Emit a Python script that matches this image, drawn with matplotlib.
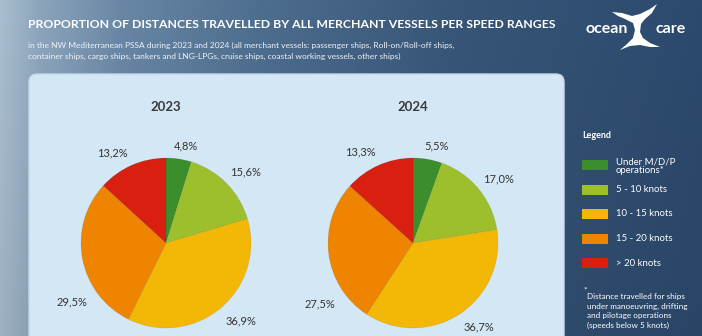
import numpy as np
import matplotlib
matplotlib.use("Agg")
import matplotlib.pyplot as plt
from matplotlib.patches import FancyBboxPatch, Rectangle, Polygon

plt.rcParams['font.family'] = ['Lato', 'DejaVu Sans']

# ---------------- data ----------------
categories = ["Under M/D/P\noperations*", "5 - 10 knots", "10 - 15 knots", "15 - 20 knots", "> 20 knots"]
colors = ["#3b8e2b", "#9dbf2c", "#f3b806", "#ef8401", "#d81f10"]
years = ["2023", "2024"]
values_2023 = [4.8, 15.6, 36.9, 29.5, 13.2]
values_2024 = [5.5, 17.0, 36.7, 27.5, 13.3]
values = [values_2023, values_2024]

title = "PROPORTION OF DISTANCES TRAVELLED BY ALL MERCHANT VESSELS PER SPEED RANGES"
subtitle = ("in the NW Mediterranean PSSA during 2023 and 2024 (all merchant vessels: passenger ships, Roll-on/Roll-off ships,\n"
            "container ships, cargo ships, tankers and LNG-LPGs, cruise ships, coastal working vessels, other ships)")
footnote = ("Distance travelled for ships\nunder manoeuvring, drifting\nand pilotage operations\n(speeds below 5 knots)")

# label placement (layout, in pie-radius units relative to centre)
label_offsets = [
    [(0.235, 1.14), (0.93, 0.835), (0.88, -0.92), (-1.106, -0.694), (-0.635, 1.06)],
    [(0.28, 1.14), (1.01, 0.75), (0.78, -0.99), (-1.09, -0.72), (-0.62, 1.07)],
]

W, H = 702, 336
fig = plt.figure(figsize=(W / 100, H / 100), dpi=100)

# ---------------- background ----------------
bg = fig.add_axes([0, 0, 1, 1])
xs = np.array([0, 40, 120, 260, 450, 702])
r = np.interp(np.arange(W), xs, [170, 140, 105, 78, 56, 44])
g = np.interp(np.arange(W), xs, [190, 165, 135, 110, 86, 74])
b = np.interp(np.arange(W), xs, [208, 188, 165, 143, 120, 110])
grad = np.stack([r, g, b], axis=-1)[None, :, :] / 255.0
grad = np.repeat(grad, H, axis=0)
vy = np.linspace(1.0, 0.93, H)[:, None, None]
grad = grad * vy
bg.imshow(grad, extent=[0, W, H, 0], aspect='auto', interpolation='bilinear')
bg.set_xlim(0, W)
bg.set_ylim(H, 0)
bg.axis('off')

# panel shadow + panel
bg.add_patch(FancyBboxPatch((31, 77), 534, 300, boxstyle="round,pad=0,rounding_size=8",
                            facecolor="#6f8aa3", edgecolor="none", alpha=0.5, zorder=1))
bg.add_patch(FancyBboxPatch((29, 74), 535, 300, boxstyle="round,pad=0,rounding_size=8",
                            facecolor="#d3e7f5", edgecolor="#c2d8ea", linewidth=1, zorder=2))

# titles
bg.text(28, 25, title, color="white", fontsize=8.8, fontweight="bold", va="center", ha="left", zorder=3)
bg.text(28, 51, subtitle, color="#eef3f8", fontsize=6.05, va="center", ha="left", linespacing=1.5, zorder=3)

# logo
bg.text(607, 29, "ocean", color="white", fontsize=11.5, fontweight="bold", ha="center", va="center", zorder=3)
bg.text(671, 29, "care", color="white", fontsize=11.5, fontweight="bold", ha="center", va="center", zorder=3)
tail = [(612, 12), (622, 13), (632, 16), (640, 14), (650, 9), (657, 4), (652, 13), (645, 19),
        (641, 24), (640, 32), (643, 38), (650, 43), (660, 47), (650, 47), (640, 45), (630, 46),
        (620, 50), (627, 44), (633, 38), (635, 30), (633, 23), (625, 19), (618, 16)]
bg.add_patch(Polygon(tail, closed=True, facecolor="white", edgecolor="none", zorder=3))

# legend (manual)
bg.text(582, 136, "Legend", color="white", fontsize=6.5, fontweight="bold", va="center", ha="left", zorder=3)
for i, (lab, col) in enumerate(zip(categories, colors)):
    yc = 165 + i * 24.5
    bg.add_patch(Rectangle((582, yc - 5), 26, 10, facecolor=col, edgecolor="none", zorder=3))
    bg.text(616, yc + (1 if i == 0 else 0), lab, color="white", fontsize=6.9, va="center", ha="left",
            linespacing=0.95, zorder=3)
bg.text(583, 290, "*", color="white", fontsize=6, va="center", ha="left", zorder=3)
bg.text(587, 311, footnote, color="white", fontsize=5.9, va="center", ha="left", linespacing=1.45, zorder=3)

# ---------------- pies ----------------
centers = [(166, 243), (413, 243)]
R = 85
for k, (year, vals) in enumerate(zip(years, values)):
    cx, cy = centers[k]
    ax = fig.add_axes([(cx - R) / W, (H - cy - R) / H, 2 * R / W, 2 * R / H])
    wedges, _ = ax.pie(vals, colors=colors, startangle=90, counterclock=False, radius=1,
                       wedgeprops=dict(linewidth=0.6, edgecolor=(0, 0, 0, 0.08)))
    ax.set_xlim(-1, 1)
    ax.set_ylim(-1, 1)
    ax.set_aspect('auto')
    ax.axis('off')
    for v, (dx, dy) in zip(vals, label_offsets[k]):
        ax.text(dx, dy, f"{v:.1f}%".replace('.', ','), ha="center", va="center",
                fontsize=8, color="#333333", clip_on=False)
    ax.text(0, 1.0 + (243 - 107 - R) / R, year, ha="center", va="center", fontsize=9.5,
            fontweight="bold", color="#3a3a3a", clip_on=False)

fig.savefig("out.png", dpi=100)
